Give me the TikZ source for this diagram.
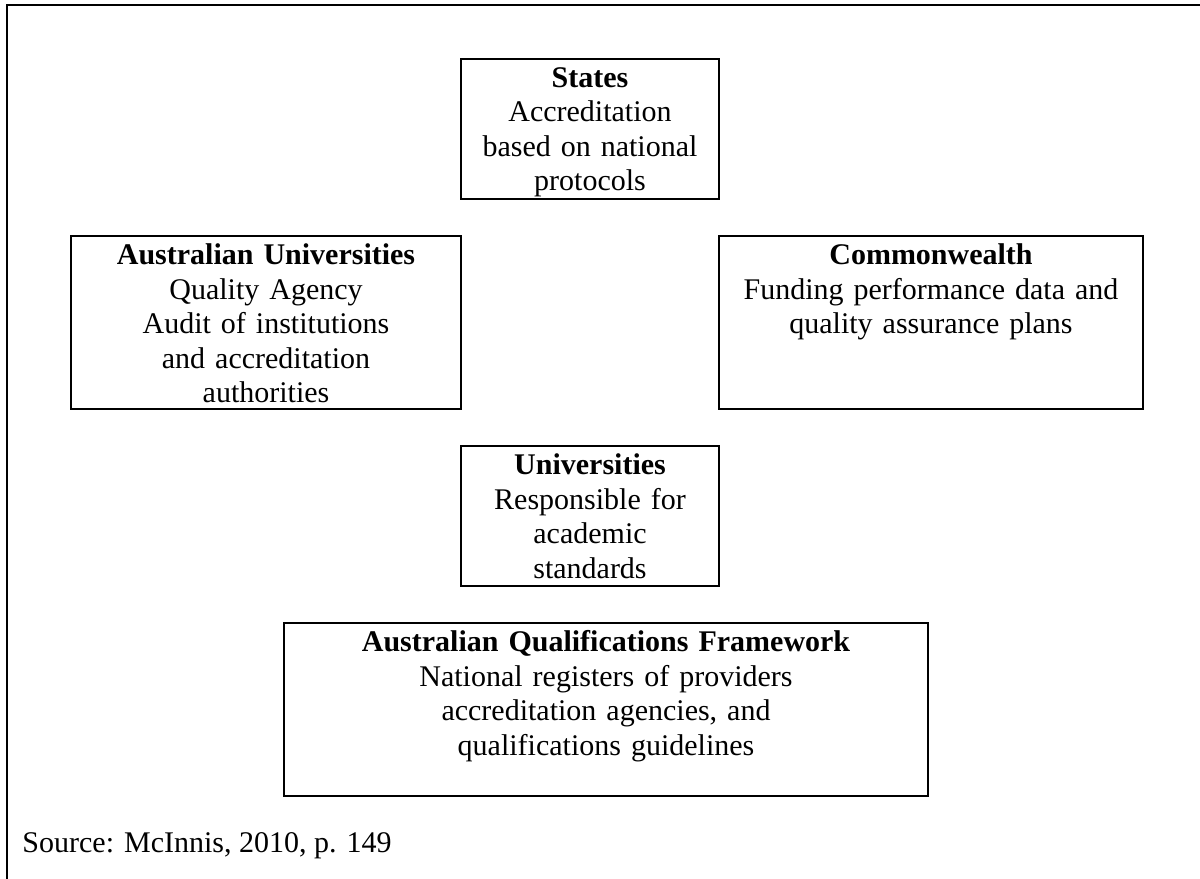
\documentclass[tikz,border=0pt]{standalone}
\usepackage{fontspec}
\setmainfont{Liberation Serif}
\usepackage{tikz}

\begin{document}
\begin{tikzpicture}[x=0.4pt, y=-0.4pt, anchor=north west,
  box/.style={rectangle, draw, line width=0.8pt, inner sep=0pt, align=center, text height=11.4pt},
  every node/.style={font=\fontsize{12pt}{13.8pt}\selectfont}]
  \useasboundingbox (0,0) rectangle (1200,879);
  \draw[line width=0.8pt] (1200,5) -- (7,5) -- (7,879);
   \node[box, text width=103.2pt, text depth=44.6pt] (states) at (460,58) {\textbf{States}\\Accreditation\\based on national\\protocols};
   \node[box, text width=156pt, text depth=57.8pt] (auqa) at (70,235) {\textbf{Australian Universities}\\Quality Agency\\Audit of institutions\\and accreditation\\authorities};
   \node[box, text width=169.6pt, text depth=57.8pt] (cwlth) at (718,235) {\textbf{Commonwealth}\\Funding performance data and\\quality assurance plans};
   \node[box, text width=103.2pt, text depth=44.6pt] (unis) at (460,445) {\textbf{Universities}\\Responsible for\\academic\\standards};
   \node[box, text width=257.6pt, text depth=57.8pt] (aqf) at (283,622) {\textbf{Australian Qualifications Framework}\\National registers of providers\\accreditation agencies, and\\qualifications guidelines};
   \node[anchor=base west, inner sep=0pt] (src) at (22,852) {Source: McInnis, 2010, p. 149};
 \end{tikzpicture}
\end{document}
